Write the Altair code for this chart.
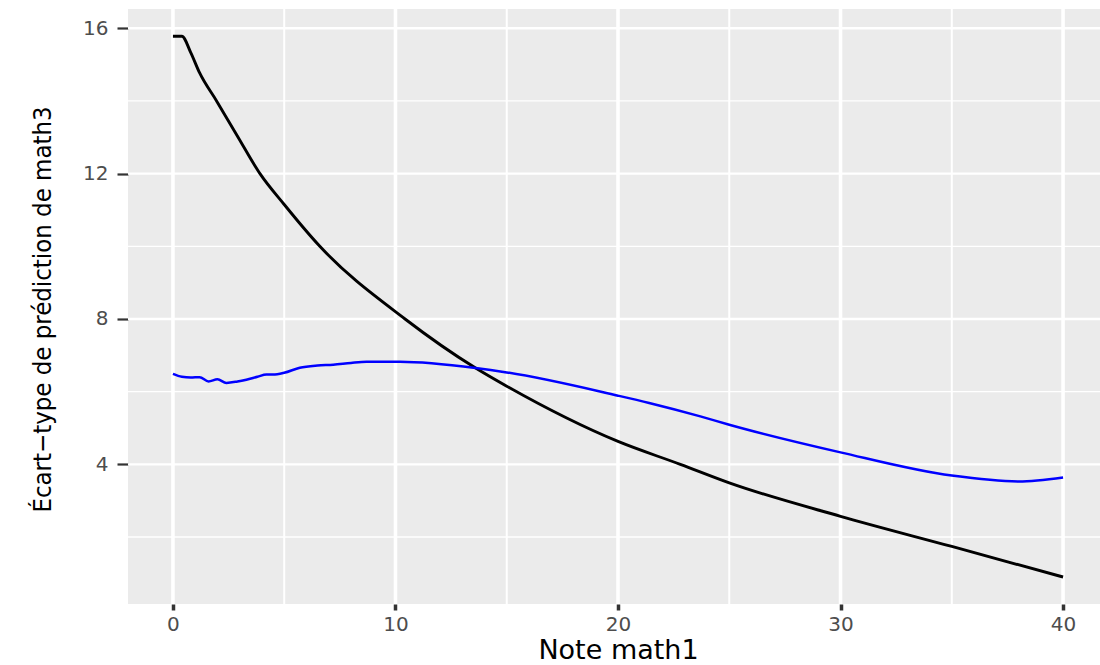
import altair as alt
import pandas as pd

# Prediction standard deviation, black curve
x_noir = [0, 0.4, 0.8, 1.2, 1.96, 2.9, 3.91, 5.0, 6.6, 10.43, 13.6, 15.0, 20, 22.8, 25, 30, 35, 40]
y_noir = [15.78, 15.78, 15.33, 14.77, 14.0, 13.03, 12.0, 11.15, 10.0, 8.0, 6.65, 6.15,
          4.63, 4.0, 3.49, 2.57, 1.74, 0.90]

# Prediction standard deviation, blue curve
x_bleu = [0, 0.4, 0.8, 1.2, 1.6, 2.0, 2.4, 2.9, 3.3, 3.8, 4.2, 4.5, 5.0, 5.7, 6.5, 7.2, 8.0,
          8.7, 10.2, 13.6, 15, 20, 21.4, 23.7, 25, 30, 35, 38, 40]
y_bleu = [6.49, 6.41, 6.39, 6.40, 6.28, 6.34, 6.24, 6.28, 6.33, 6.41, 6.47, 6.47, 6.52, 6.66,
          6.72, 6.74, 6.79, 6.82, 6.82, 6.65, 6.53, 5.89, 5.69, 5.32, 5.09, 4.33, 3.69, 3.53, 3.64]

# Axis breaks
x_major = [0, 10, 20, 30, 40]
x_minor = [5, 15, 25, 35]
y_major = [4, 8, 12, 16]
y_minor = [2, 6, 10, 14]

X_DOMAIN = [-2.02, 41.66]
Y_DOMAIN = [0.157, 16.53]

df_noir = pd.DataFrame({"math1": x_noir, "sd": y_noir})
df_bleu = pd.DataFrame({"math1": x_bleu, "sd": y_bleu})

x_scale = alt.Scale(domain=X_DOMAIN, nice=False, zero=False)
y_scale = alt.Scale(domain=Y_DOMAIN, nice=False, zero=False)

LABEL_FONT = "DejaVu Sans"

x_axis = alt.Axis(
    values=x_major, format="d", grid=False, domain=False,
    tickSize=6, tickWidth=3.5, tickColor="#333333",
    labelColor="#4D4D4D", labelFont=LABEL_FONT, labelFontSize=20, labelPadding=4,
    title="Note math1", titleFont=LABEL_FONT, titleFontSize=27,
    titleFontWeight="normal", titleColor="black",
    titleBaseline="alphabetic", titleAlign="center", titleX=490, titleY=54.5,
)

y_axis = alt.Axis(
    values=y_major, format="d", grid=False, domain=False,
    tickSize=11, tickWidth=2.2, tickColor="#333333",
    labelColor="#4D4D4D", labelFont=LABEL_FONT, labelFontSize=20, labelPadding=9,
    title="Écart−type de prédiction de math3",
    titleFont="DejaVu Sans Condensed, DejaVu Sans, sans-serif",
    titleFontSize=25.5, titleFontWeight="normal", titleColor="black",
    titleAngle=270, titleBaseline="alphabetic", titleAlign="center",
    titleX=-78, titleY=300,
)


def vgrid(values, width):
    return alt.Chart(pd.DataFrame({"math1": values})).mark_rule(
        color="white", strokeWidth=width
    ).encode(x=alt.X("math1:Q", scale=x_scale, axis=x_axis))


def hgrid(values, width):
    return alt.Chart(pd.DataFrame({"sd": values})).mark_rule(
        color="white", strokeWidth=width
    ).encode(y=alt.Y("sd:Q", scale=y_scale, axis=y_axis))


ligne_noire = alt.Chart(df_noir).mark_line(
    color="black", strokeWidth=2.9, interpolate="monotone"
).encode(
    x=alt.X("math1:Q", scale=x_scale, axis=x_axis),
    y=alt.Y("sd:Q", scale=y_scale, axis=y_axis),
)

ligne_bleue = alt.Chart(df_bleu).mark_line(
    color="#0000FF", strokeWidth=2.5, interpolate="monotone"
).encode(
    x=alt.X("math1:Q", scale=x_scale, axis=x_axis),
    y=alt.Y("sd:Q", scale=y_scale, axis=y_axis),
)

chart = alt.layer(
    vgrid(x_minor, 2.0),
    hgrid(y_minor, 1.3),
    vgrid(x_major, 3.6),
    hgrid(y_major, 2.4),
    ligne_noire,
    ligne_bleue,
).properties(
    width=972,
    height=595,
    padding={"left": 128, "top": 9, "right": 0, "bottom": 61},
    autosize=alt.AutoSizeParams(type="none"),
    background="white",
).configure_view(
    fill="#EBEBEB", stroke=None
)

chart.save("out.html", embed_options={"renderer": "svg", "actions": False})
